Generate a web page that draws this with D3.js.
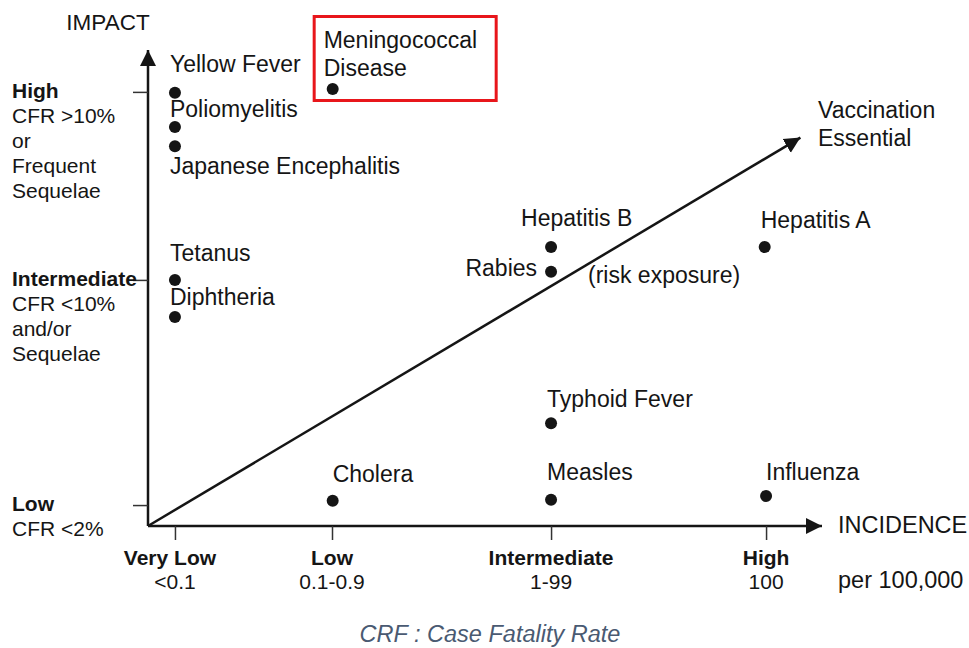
<!DOCTYPE html>
<html>
<head>
<meta charset="utf-8">
<script src="https://cdn.jsdelivr.net/npm/d3@7"></script>
<style>
  html, body { margin: 0; padding: 0; background: #fff; }
  svg { display: block; font-family: "Liberation Sans", Arial, Helvetica, sans-serif; }
</style>
</head>
<body>
<svg id="chart" width="969" height="648"></svg>
<script>
// ---- data ----
const incidenceLevels = ["Very Low", "Low", "Intermediate", "High"];
const incidenceRanges = ["<0.1", "0.1-0.9", "1-99", "100"];
const incidenceValues = [0.4, 2.73, 5.98, 9.17];

const impactLevels = ["High", "Intermediate", "Low"];
const impactNotes = [["CFR >10%", "or", "Frequent", "Sequelae"], ["CFR <10%", "and/or", "Sequelae"], ["CFR <2%"]];
const impactValues = [9.12, 5.17, 0.44];

const diseases = ["Yellow Fever", "Poliomyelitis", "Japanese Encephalitis", "Meningococcal Disease",
  "Tetanus", "Diphtheria", "Hepatitis B", "Rabies", "Hepatitis A", "Typhoid Fever",
  "Cholera", "Measles", "Influenza"];
const diseaseIncidence = [0.4, 0.4, 0.4, 2.74, 0.4, 0.4, 5.98, 5.98, 9.15, 5.98, 2.74, 5.98, 9.17];
const diseaseImpact = [9.10, 8.38, 7.98, 9.18, 5.17, 4.39, 5.86, 5.34, 5.86, 2.16, 0.53, 0.55, 0.63];

const trendStart = [0, 0];
const trendEnd = [9.68, 8.16];

// ---- drawing ----
const svg = d3.select("#chart");
const x = d3.scaleLinear().domain([0, 10]).range([148, 822]);
const y = d3.scaleLinear().domain([0, 10]).range([526, 50]);
const ink = "#151515";
const labelSize = 23;

const defs = svg.append("defs");
defs.append("marker").attr("id", "arrow").attr("viewBox", "0 0 10 10")
  .attr("refX", 10).attr("refY", 5).attr("markerWidth", 16).attr("markerHeight", 18)
  .attr("markerUnits", "userSpaceOnUse").attr("orient", "auto")
  .append("path").attr("d", "M0,0 L10,5 L0,10 Z").attr("fill", ink);

// axes lines
svg.append("line").attr("x1", x(0)).attr("y1", y(0)).attr("x2", x(10)).attr("y2", y(0))
  .attr("stroke", ink).attr("stroke-width", 2.5).attr("marker-end", "url(#arrow)");
svg.append("line").attr("x1", x(0)).attr("y1", y(0)).attr("x2", x(0)).attr("y2", y(10))
  .attr("stroke", ink).attr("stroke-width", 2.5).attr("marker-end", "url(#arrow)");

// x axis ticks via d3 axis
const xAxis = d3.axisBottom(x).tickValues(incidenceValues).tickSize(14).tickFormat("");
const gx = svg.append("g").attr("transform", `translate(0,${y(0)})`).call(xAxis);
gx.select(".domain").remove();
gx.selectAll(".tick line").attr("stroke", "#333").attr("stroke-width", 1.5);

const yAxis = d3.axisLeft(y).tickValues(impactValues).tickSize(15).tickFormat("");
const gy = svg.append("g").attr("transform", `translate(${x(0)},0)`).call(yAxis);
gy.select(".domain").remove();
gy.selectAll(".tick line").attr("stroke", "#333").attr("stroke-width", 1.5);

// x tick labels
incidenceValues.forEach((v, i) => {
  const t = svg.append("text").attr("x", x(v)).attr("text-anchor", "middle")
    .attr("fill", ink).attr("font-size", 21);
  t.append("tspan").attr("x", x(v) - (i === 0 ? 5 : 0)).attr("y", 565).attr("font-weight", "bold").text(incidenceLevels[i]);
  t.append("tspan").attr("x", x(v)).attr("y", 589).text(incidenceRanges[i]);
});

// y tick labels
impactValues.forEach((v, i) => {
  const base = y(v) + 6;
  const t = svg.append("text").attr("fill", ink).attr("font-size", 21);
  t.append("tspan").attr("x", 12).attr("y", base).attr("font-weight", "bold").text(impactLevels[i]);
  impactNotes[i].forEach((line, j) => {
    t.append("tspan").attr("x", 12).attr("y", base + 25 * (j + 1)).text(line);
  });
});

// axis titles
svg.append("text").attr("x", 108).attr("y", 30).attr("text-anchor", "middle")
  .attr("font-size", 22.5).attr("fill", ink).text("IMPACT");
svg.append("text").attr("x", 838).attr("y", 533)
  .attr("font-size", 23.5).attr("fill", ink).text("INCIDENCE");
svg.append("text").attr("x", 838).attr("y", 588)
  .attr("font-size", 23.5).attr("fill", ink).text("per 100,000");

// trend arrow
svg.append("line").attr("x1", x(trendStart[0])).attr("y1", y(trendStart[1]))
  .attr("x2", x(trendEnd[0])).attr("y2", y(trendEnd[1]))
  .attr("stroke", ink).attr("stroke-width", 2.5).attr("marker-end", "url(#arrow)");
const vt = svg.append("text").attr("font-size", labelSize).attr("fill", ink);
vt.append("tspan").attr("x", 818).attr("y", 118).text("Vaccination");
vt.append("tspan").attr("x", 818).attr("y", 146).text("Essential");

// label offsets (layout only)
const labelLayout = {
  "Yellow Fever": [-5, -21, "start"],
  "Poliomyelitis": [-5, -10, "start"],
  "Japanese Encephalitis": [-5, 28, "start"],
  "Meningococcal Disease": [-9, -41, "start"],
  "Tetanus": [-5, -19, "start"],
  "Diphtheria": [-5, -12, "start"],
  "Hepatitis B": [-30, -21, "start"],
  "Rabies": [-14, 4, "end"],
  "Hepatitis A": [-4, -19, "start"],
  "Typhoid Fever": [-4, -16, "start"],
  "Cholera": [0, -19, "start"],
  "Measles": [-4, -20, "start"],
  "Influenza": [0, -16, "start"]
};

diseases.forEach((name, i) => {
  const cx = x(diseaseIncidence[i]), cy = y(diseaseImpact[i]);
  svg.append("circle").attr("cx", cx).attr("cy", cy).attr("r", 6).attr("fill", ink);
  const [dx, dy, anchor] = labelLayout[name];
  if (name === "Meningococcal Disease") {
    const t = svg.append("text").attr("font-size", labelSize).attr("fill", ink);
    t.append("tspan").attr("x", cx + dx).attr("y", cy + dy).text("Meningococcal");
    t.append("tspan").attr("x", cx + dx).attr("y", cy + dy + 28).text("Disease");
    svg.append("rect").attr("x", cx - 18.5).attr("y", 16.5).attr("width", 182).attr("height", 84)
      .attr("fill", "none").attr("stroke", "#e8161b").attr("stroke-width", 3);
  } else {
    svg.append("text").attr("x", cx + dx).attr("y", cy + dy).attr("text-anchor", anchor)
      .attr("font-size", labelSize).attr("fill", ink).text(name);
  }
  if (name === "Rabies") {
    svg.append("text").attr("x", cx + 37).attr("y", cy + 11)
      .attr("font-size", labelSize).attr("fill", ink).text("(risk exposure)");
  }
});

// caption
svg.append("text").attr("x", 490).attr("y", 642).attr("text-anchor", "middle")
  .attr("font-size", 23.5).attr("font-style", "italic").attr("fill", "#4a5a72")
  .text("CRF : Case Fatality Rate");
</script>
</body>
</html>
